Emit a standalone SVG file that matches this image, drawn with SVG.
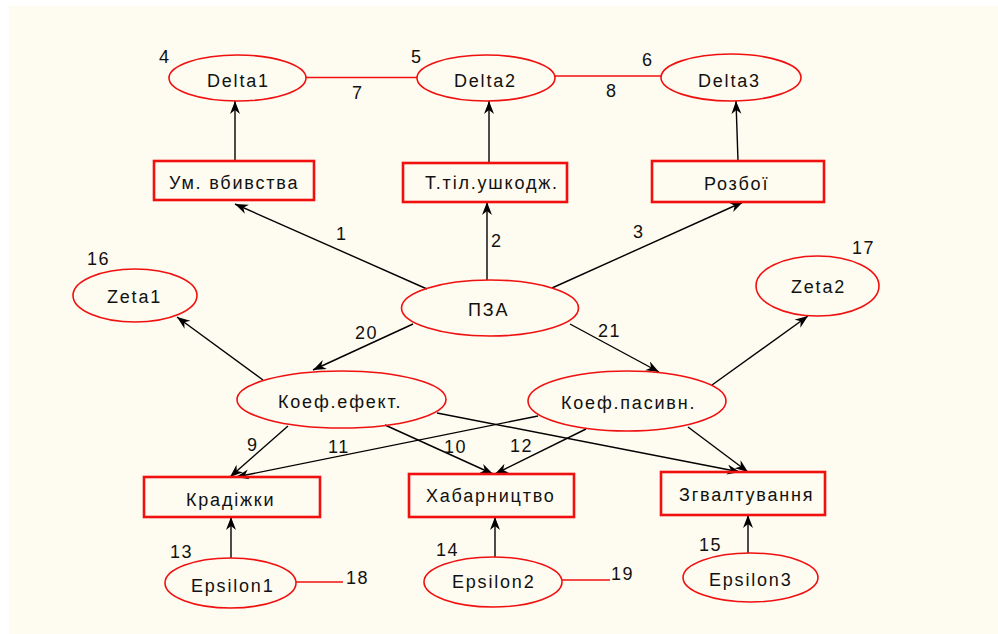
<svg xmlns="http://www.w3.org/2000/svg" width="998" height="634" viewBox="0 0 998 634">
<style>
.t{font-family:"Liberation Sans",Arial,sans-serif;font-size:18px;letter-spacing:1.8px;fill:#111}
.n{font-family:"Liberation Sans",Arial,sans-serif;font-size:18px;letter-spacing:1.5px;fill:#111}
.e{fill:none;stroke:#f01010;stroke-width:1.6}
.b{fill:none;stroke:#f01010;stroke-width:2.6}
.a{stroke:#000;stroke-width:1.4;fill:none;marker-end:url(#ah)}
.r{stroke:#f01010;stroke-width:1.5;fill:none}
</style>
<defs>
<marker id="ah" markerUnits="userSpaceOnUse" markerWidth="16" markerHeight="12" refX="13" refY="5" orient="auto">
<path d="M0,0 L13,5 L0,10 L4,5 z" fill="#000"/>
</marker>
</defs>
<rect x="9" y="6" width="989" height="628" fill="#fefbf0"/>
<g id="connectors">
<line class="r" x1="306" y1="77.5" x2="417" y2="77.5"/>
<line class="r" x1="555" y1="76" x2="661" y2="76"/>
<line class="r" x1="296" y1="582" x2="343" y2="582"/>
<line class="r" x1="562" y1="580" x2="610" y2="580"/>
<line class="a" x1="235" y1="160" x2="235" y2="101"/>
<line class="a" x1="489" y1="162" x2="489" y2="101"/>
<line class="a" x1="738" y1="161" x2="736" y2="101"/>
<line class="a" x1="427" y1="289" x2="235" y2="204"/>
<line class="a" x1="487" y1="280" x2="487" y2="202"/>
<line class="a" x1="552" y1="288" x2="743" y2="202"/>
<line class="a" x1="413" y1="324" x2="313" y2="370"/>
<line class="a" x1="570" y1="324" x2="659" y2="372"/>
<line class="a" x1="263" y1="380" x2="177" y2="317"/>
<line class="a" x1="712" y1="385" x2="808" y2="316"/>
<line class="a" x1="288" y1="426" x2="230" y2="477"/>
<line class="a" x1="538" y1="416" x2="236" y2="477"/>
<line class="a" x1="385" y1="425" x2="493" y2="474"/>
<line class="a" x1="586" y1="429" x2="495" y2="474"/>
<line class="a" x1="437" y1="413" x2="740" y2="472"/>
<line class="a" x1="688" y1="427" x2="748" y2="472"/>
<line class="a" x1="231" y1="558" x2="231" y2="517"/>
<line class="a" x1="495" y1="557" x2="495" y2="517"/>
<line class="a" x1="748" y1="553" x2="748" y2="515"/>
</g>
<g id="delta1"><ellipse class="e" cx="237.5" cy="78" rx="68.5" ry="23"/><text class="t" x="207" y="87">Delta1</text></g>
<g id="delta2"><ellipse class="e" cx="486" cy="78" rx="69" ry="23"/><text class="t" x="454" y="87">Delta2</text></g>
<g id="delta3"><ellipse class="e" cx="731" cy="77.5" rx="70" ry="23.5"/><text class="t" x="698" y="87">Delta3</text></g>
<g id="um"><rect class="b" x="154" y="161" width="160" height="39"/><text class="t" x="169" y="189">Ум. вбивства</text></g>
<g id="ttil"><rect class="b" x="403" y="163" width="164" height="39"/><text class="t" x="425" y="189">Т.тіл.ушкодж.</text></g>
<g id="rozboi"><rect class="b" x="652" y="161" width="172" height="41"/><text class="t" x="704" y="190">Розбої</text></g>
<g id="pza"><ellipse class="e" cx="490" cy="308" rx="88.5" ry="28"/><text class="t" x="468" y="316">ПЗА</text></g>
<g id="zeta1"><ellipse class="e" cx="135" cy="295.5" rx="62" ry="26.5"/><text class="t" x="107" y="303">Zeta1</text></g>
<g id="zeta2"><ellipse class="e" cx="817.5" cy="286" rx="61.5" ry="30"/><text class="t" x="791" y="293">Zeta2</text></g>
<g id="koefef"><ellipse class="e" cx="341.5" cy="399.5" rx="104.5" ry="28.5"/><text class="t" x="278" y="408">Коеф.ефект.</text></g>
<g id="koefpas"><ellipse class="e" cx="627" cy="401" rx="99" ry="30"/><text class="t" x="561" y="409">Коеф.пасивн.</text></g>
<g id="kradizhky"><rect class="b" x="144" y="477" width="176" height="40"/><text class="t" x="186" y="506">Крадіжки</text></g>
<g id="khabar"><rect class="b" x="409" y="474" width="165" height="43"/><text class="t" x="426" y="502">Хабарництво</text></g>
<g id="zgvalt"><rect class="b" x="661" y="472" width="164" height="43"/><text class="t" x="679" y="501">Згвалтування</text></g>
<g id="eps1"><ellipse class="e" cx="230.5" cy="583" rx="65.5" ry="25"/><text class="t" x="191" y="592">Epsilon1</text></g>
<g id="eps2"><ellipse class="e" cx="493" cy="582" rx="69" ry="25"/><text class="t" x="452" y="588">Epsilon2</text></g>
<g id="eps3"><ellipse class="e" cx="750.5" cy="577.5" rx="67.5" ry="24.5"/><text class="t" x="709" y="586">Epsilon3</text></g>
<g id="labels">
<text class="n" x="159" y="63">4</text>
<text class="n" x="411" y="63">5</text>
<text class="n" x="642" y="66">6</text>
<text class="n" x="352" y="99">7</text>
<text class="n" x="606" y="97">8</text>
<text class="n" x="336" y="240">1</text>
<text class="n" x="491" y="247">2</text>
<text class="n" x="633" y="238">3</text>
<text class="n" x="87" y="265">16</text>
<text class="n" x="852" y="254">17</text>
<text class="n" x="355" y="339">20</text>
<text class="n" x="598" y="337">21</text>
<text class="n" x="247" y="451">9</text>
<text class="n" x="328" y="453">11</text>
<text class="n" x="444" y="453">10</text>
<text class="n" x="510" y="452">12</text>
<text class="n" x="170" y="558">13</text>
<text class="n" x="436" y="556">14</text>
<text class="n" x="699" y="551">15</text>
<text class="n" x="346" y="584">18</text>
<text class="n" x="611" y="580">19</text>
</g>
</svg>
